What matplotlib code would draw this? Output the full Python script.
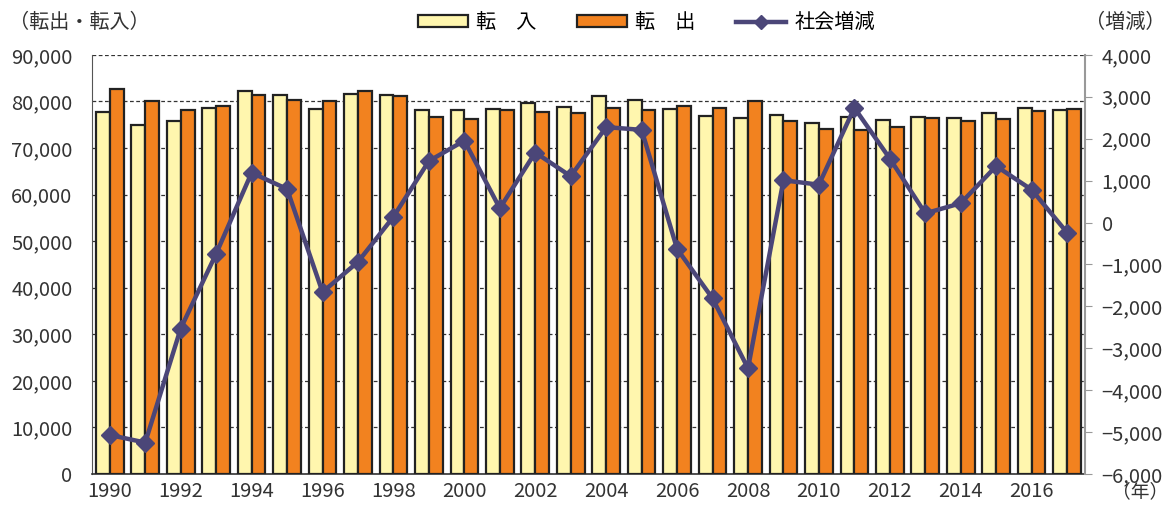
import matplotlib.pyplot as plt
import numpy as np
from matplotlib.patches import Patch
from matplotlib.lines import Line2D
from matplotlib.ticker import FuncFormatter, MultipleLocator

plt.rcParams['font.family'] = ['Noto Sans CJK JP', 'DejaVu Sans']

years = list(range(1990, 2018))
tennyu = [77690, 74900, 75760, 78550, 82340, 81340, 78470, 81620, 81480, 78190,
          78190, 78370, 79660, 78860, 81070, 80300, 78370, 76930, 76350, 77000,
          75300, 76750, 76000, 76570, 76350, 77500, 78580, 78070]
tenshutsu = [82630, 80180, 78250, 79050, 81340, 80400, 80180, 82340, 81260, 76750,
             76190, 78070, 77790, 77500, 78650, 78070, 78930, 78650, 80150, 75790,
             74180, 73920, 74500, 76350, 75790, 76140, 77850, 78370]
zougen = [-5070, -5250, -2530, -745, 1186, 800, -1660, -940, 136, 1467,
          1952, 339, 1670, 1104, 2276, 2210, -630, -1810, -3480, 1007,
          903, 2736, 1525, 218, 460, 1346, 782, -242]
tick_years = list(range(1990, 2017, 2))

c_in = "#FFF6AE"
c_out = "#F2821F"
c_line = "#4B4678"
fs = 14.5

fig = plt.figure(figsize=(11.68, 5.05), dpi=100)
ax = fig.add_axes([0.0788, 0.0614, 0.850, 0.830])
x = np.arange(len(years))
w = 0.39

ax.bar(x - w / 2, tennyu, w, color=c_in, edgecolor="#222222", linewidth=1.6, zorder=3)
ax.bar(x + w / 2, tenshutsu, w, color=c_out, edgecolor="#222222", linewidth=1.6, zorder=3)
ax.set_ylim(0, 90000)
ax.set_xlim(-0.5, len(years) - 0.5)
ax.yaxis.set_major_locator(MultipleLocator(10000))
ax.yaxis.set_major_formatter(FuncFormatter(lambda v, p: f"{int(v):,}"))
ax.grid(axis="y", linestyle=(0, (3, 2)), color="#333333", linewidth=0.9, zorder=0)
ax.set_xticks([years.index(y) for y in tick_years])
ax.set_xticklabels([str(y) for y in tick_years])
ax.tick_params(axis="y", length=0, labelsize=fs, colors="#333333", pad=14)
ax.tick_params(axis="x", length=0, labelsize=fs, colors="#333333", pad=5)
ax.spines["top"].set_visible(False)
ax.spines["right"].set_visible(False)
ax.spines["left"].set_color("#555555")
ax.spines["bottom"].set_color("#333333")
ax.spines["bottom"].set_linewidth(1.2)

ax2 = ax.twinx()
ax2.plot(x, zougen, color=c_line, linewidth=3.2, marker="D", markersize=9, zorder=5)
ax2.set_ylim(-6000, 4000)
ax2.yaxis.set_major_locator(MultipleLocator(1000))
ax2.yaxis.set_major_formatter(FuncFormatter(lambda v, p: f"{int(v):,}".replace("-", "\u2212")))
ax2.tick_params(axis="y", length=5, labelsize=fs, colors="#333333", color="#999999", pad=7)
for s in ["top", "left", "bottom"]:
    ax2.spines[s].set_visible(False)
ax2.spines["right"].set_color("#999999")
ax2.spines["right"].set_linewidth(1.5)

fig.text(0.008, 0.955, "（転出・転入）", fontsize=fs, color="#333333", va="center")
fig.text(0.998, 0.955, "（増減）", fontsize=fs, color="#333333", va="center", ha="right")
fig.text(1.0, 0.006, "（年）", fontsize=13.5, color="#333333", va="bottom", ha="right")

handles = [Patch(facecolor=c_in, edgecolor="#222222", linewidth=1.6),
           Patch(facecolor=c_out, edgecolor="#222222", linewidth=1.6),
           Line2D([0], [0], color=c_line, linewidth=3.2, marker="D", markersize=7)]
fig.legend(handles, ["転　入", "転　出", "社会増減"], loc="center", bbox_to_anchor=(0.5535, 0.955),
           ncol=3, frameon=False, fontsize=fs, handlelength=2.5, handleheight=0.5,
           columnspacing=2.0, handletextpad=0.4)

fig.savefig("out.png", dpi=100)
